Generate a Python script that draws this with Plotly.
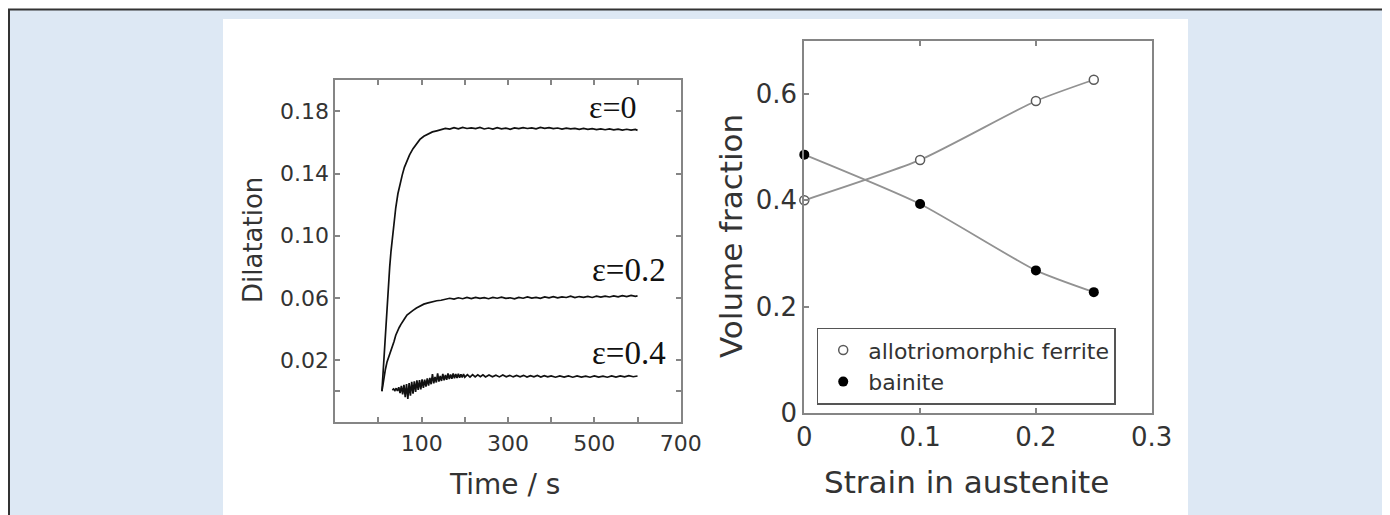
import plotly.graph_objects as go

# The page body adds an 8px offset, so the figure is 8px smaller than the window
OFF = 8
W, H = 1390 - OFF, 515 - OFF

# ---------------- data: left panel (dilatation vs time) ----------------
t_e0 = [8, 11, 14, 17, 20, 23, 26, 29, 32, 36, 40, 45, 50, 55, 60, 66, 72, 80, 88, 96,
        105, 115, 125, 135, 145, 155, 165, 175, 185, 195, 205, 215, 225, 235, 245, 255,
        265, 275, 285, 295, 305, 315, 325, 335, 345, 355, 365, 375, 385, 395, 405, 415,
        425, 435, 445, 455, 465, 475, 485, 495, 505, 515, 525, 535, 545, 555, 565, 575,
        585, 595, 600]
d_e0 = [0.000, 0.014, 0.028, 0.042, 0.055, 0.068, 0.080, 0.090, 0.099, 0.109, 0.118, 0.127,
        0.134, 0.139, 0.144, 0.148, 0.152, 0.156, 0.159, 0.162, 0.164, 0.1655, 0.1668,
        0.1675, 0.1682, 0.1690, 0.1686, 0.1695, 0.1688, 0.1697, 0.1690, 0.1694, 0.1689,
        0.1697, 0.1687, 0.1693, 0.1686, 0.1695, 0.1688, 0.1692, 0.1685, 0.1694, 0.1689,
        0.1696, 0.1690, 0.1694, 0.1688, 0.1697, 0.1691, 0.1695, 0.1689, 0.1693, 0.1686,
        0.1692, 0.1687, 0.1691, 0.1684, 0.1690, 0.1685, 0.1689, 0.1683, 0.1688, 0.1682,
        0.1687, 0.1681, 0.1686, 0.1680, 0.1685, 0.1679, 0.1684, 0.1678]

t_e2 = [8, 12, 16, 20, 24, 28, 32, 36, 40, 44, 48, 52, 56, 60, 66, 72, 80, 88, 96, 105,
        115, 125, 135, 145, 155, 165, 175, 185, 195, 205, 215, 225, 235, 245, 255, 265,
        275, 285, 295, 305, 315, 325, 335, 345, 355, 365, 375, 385, 395, 405, 415, 425,
        435, 445, 455, 465, 475, 485, 495, 505, 515, 525, 535, 545, 555, 565, 575, 585,
        595, 600]
d_e2 = [0.000, 0.008, 0.014, 0.019, 0.022, 0.025, 0.029, 0.032, 0.036, 0.039, 0.041, 0.043,
        0.045, 0.0465, 0.049, 0.0505, 0.052, 0.0535, 0.0548, 0.056, 0.0568, 0.0576, 0.0582,
        0.0585, 0.0592, 0.0598, 0.0592, 0.0601, 0.0595, 0.0603, 0.0596, 0.0604, 0.0597,
        0.0602, 0.0595, 0.0603, 0.0598, 0.0605, 0.0597, 0.0601, 0.0594, 0.0603, 0.0598,
        0.0606, 0.0599, 0.0604, 0.0598, 0.0606, 0.0600, 0.0608, 0.0601, 0.0607, 0.0603,
        0.0611, 0.0602, 0.0609, 0.0604, 0.0610, 0.0603, 0.0611, 0.0605, 0.0612, 0.0606,
        0.0613, 0.0607, 0.0615, 0.0609, 0.0616, 0.0610, 0.0613]

t_e4 = [32, 35, 38, 41, 44, 47, 50, 53, 56, 59, 62, 65, 68, 71, 74, 77, 80, 83, 86, 89,
        92, 95, 98, 101, 104, 107, 110, 113, 116, 119, 122, 125, 128, 131, 134, 137, 140,
        143, 146, 149, 152, 155, 158, 161, 164, 167, 170, 173, 176, 179, 182, 185, 188,
        191, 194, 197, 200, 206, 212, 218, 224, 230, 236, 242, 248, 256, 264, 272, 280,
        288, 296, 304, 312, 320, 328, 336, 344, 352, 360, 368, 376, 384, 392, 400, 410,
        420, 430, 440, 450, 460, 470, 480, 490, 500, 510, 520, 530, 540, 550, 560, 570,
        580, 590, 600]
d_e4 = [0.0008, 0.0014, 0.0004, 0.0019, 0.0002, 0.0026, -0.0012, 0.0034, -0.0020, 0.0041,
        -0.0038, 0.0046, -0.0050, 0.0052, -0.0028, 0.0060, -0.0015, 0.0064, -0.0004, 0.0070,
        0.0008, 0.0072, 0.0012, 0.0076, 0.0021, 0.0074, 0.0030, 0.0083, 0.0036, 0.0086,
        0.0045, 0.0110, 0.0050, 0.0092, 0.0056, 0.0114, 0.0062, 0.0098, 0.0066, 0.0112,
        0.0070, 0.0104, 0.0074, 0.0115, 0.0078, 0.0108, 0.0080, 0.0114, 0.0083, 0.0110,
        0.0085, 0.0112, 0.0087, 0.0109, 0.0088, 0.0111, 0.0090, 0.0106, 0.0091, 0.0107,
        0.0092, 0.0105, 0.0093, 0.0106, 0.0092, 0.0104, 0.0093, 0.0103, 0.0092, 0.0104,
        0.0093, 0.0102, 0.0092, 0.0101, 0.0093, 0.0102, 0.0091, 0.0100, 0.0092, 0.0101,
        0.0091, 0.0100, 0.0092, 0.0099, 0.0090, 0.0099, 0.0091, 0.0098, 0.0090, 0.0098,
        0.0091, 0.0097, 0.0090, 0.0098, 0.0091, 0.0097, 0.0090, 0.0098, 0.0091, 0.0099,
        0.0092, 0.0100, 0.0093, 0.0098]

curve_labels = ["ε=0", "ε=0.2", "ε=0.4"]
curve_label_pos = [(542, 0.183), (580, 0.078), (580, 0.0248)]

time_tick_vals = [0, 100, 200, 300, 400, 500, 600, 700]
time_tick_text = ["", "100", "", "300", "", "500", "", "700"]
dil_tick_vals = [0.00, 0.02, 0.06, 0.10, 0.14, 0.18]
dil_tick_text = ["", "0.02", "0.06", "0.10", "0.14", "0.18"]

# ---------------- data: right panel (volume fraction vs strain) ----------------
strain = [0.0, 0.1, 0.2, 0.25]
ferrite = [0.40, 0.476, 0.587, 0.627]
bainite = [0.486, 0.393, 0.268, 0.227]
strain_tick_vals = [0, 0.1, 0.2, 0.3]
strain_tick_text = ["0", "0.1", "0.2", "0.3"]
vf_tick_vals = [0, 0.2, 0.4, 0.6]
vf_tick_text = ["0", "0.2", "0.4", "0.6"]

# ---------------- styling ----------------
SANS = "DejaVu Sans, Verdana, sans-serif"
SERIF = "Liberation Serif, Times New Roman, serif"
TXT = "#333333"
SPINE = "#858585"
BG_BLUE = "#dde8f4"


def px_x(x):
    """reference-window pixel x -> paper fraction"""
    return (x - OFF) / W


def px_y(y):
    """reference-window pixel y -> paper fraction"""
    return 1 - (y - OFF) / H


fig = go.Figure()

for t, d in [(t_e0, d_e0), (t_e2, d_e2), (t_e4, d_e4)]:
    fig.add_trace(go.Scatter(x=t, y=d, mode="lines", line=dict(color="#111111", width=1.7),
                             showlegend=False, xaxis="x", yaxis="y", hoverinfo="skip"))

for vals in (ferrite, bainite):
    fig.add_trace(go.Scatter(x=strain, y=vals, mode="lines",
                             line=dict(color="#929292", width=1.8, shape="spline", smoothing=0.6),
                             showlegend=False, xaxis="x2", yaxis="y2"))
fig.add_trace(go.Scatter(x=strain, y=ferrite, mode="markers", name="allotriomorphic ferrite",
                         marker=dict(symbol="circle", size=9, color="white",
                                     line=dict(color="#5a5a5a", width=1.5)),
                         xaxis="x2", yaxis="y2", cliponaxis=False))
fig.add_trace(go.Scatter(x=strain, y=bainite, mode="markers", name="bainite",
                         marker=dict(symbol="circle", size=10, color="#000000",
                                     line=dict(color="#000000", width=0)),
                         xaxis="x2", yaxis="y2", cliponaxis=False))

annotations = []
for lab, (lx, ly), fs in zip(curve_labels, curve_label_pos, [32, 33, 33]):
    annotations.append(dict(x=lx, y=ly, xref="x", yref="y", text=lab, showarrow=False,
                            xanchor="center", yanchor="middle",
                            font=dict(family=SERIF, size=fs, color="#111111")))

title_specs = [
    ("Dilatation", 253, 240, -90, 26),
    ("Time / s", 505, 484, 0, 28),
    ("Volume fraction", 731, 236, -90, 31),
    ("Strain in austenite", 967, 482, 0, 31),
]
for txt, x, y, ang, fs in title_specs:
    annotations.append(dict(x=px_x(x), y=px_y(y), xref="paper", yref="paper", text=txt,
                            textangle=ang, showarrow=False, xanchor="center", yanchor="middle",
                            font=dict(family=SANS, size=fs, color=TXT)))

shapes = [
    dict(type="rect", xref="paper", yref="paper", x0=px_x(9), x1=px_x(1430), y0=px_y(9.5),
         y1=px_y(560), fillcolor=BG_BLUE, line=dict(color="#333333", width=2), layer="below"),
    dict(type="rect", xref="paper", yref="paper", x0=px_x(223), x1=px_x(1188), y0=px_y(19),
         y1=px_y(560), fillcolor="white", line=dict(width=0), layer="below"),
]

axis_common = dict(showline=True, linecolor=SPINE, linewidth=2, ticks="inside",
                   ticklen=5, tickwidth=1.5, tickcolor=SPINE, showgrid=False, zeroline=False,
                   automargin=False, tickmode="array")

fig.update_layout(
    width=W, height=H, margin=dict(l=0, r=0, t=0, b=0),
    paper_bgcolor="white", plot_bgcolor="rgba(0,0,0,0)", template="none",
    xaxis=dict(axis_common, mirror="ticks", domain=[px_x(335.3), px_x(680.7)], range=[-100, 700],
               tickvals=time_tick_vals, ticktext=time_tick_text,
               tickfont=dict(family=SANS, size=22, color=TXT), anchor="y"),
    yaxis=dict(axis_common, mirror="ticks", domain=[px_y(422.3), px_y(80.3)], range=[-0.02, 0.20],
               tickvals=dil_tick_vals, ticktext=dil_tick_text,
               tickfont=dict(family=SANS, size=22, color=TXT), anchor="x"),
    xaxis2=dict(axis_common, mirror="ticks", domain=[px_x(804.3), px_x(1151.7)], range=[0, 0.3],
                tickvals=strain_tick_vals, ticktext=strain_tick_text,
                tickfont=dict(family=SANS, size=26, color=TXT), anchor="y2"),
    yaxis2=dict(axis_common, mirror=True, domain=[px_y(412.7), px_y(41)], range=[0, 0.7],
                tickvals=vf_tick_vals, ticktext=vf_tick_text,
                tickfont=dict(family=SANS, size=26, color=TXT), anchor="x2"),
    legend=dict(x=px_x(816.7), y=px_y(327.7), xanchor="left", yanchor="top",
                bgcolor="white", bordercolor="#555555", borderwidth=1.5, itemwidth=40,
                font=dict(family=SANS, size=22, color=TXT), tracegroupgap=0),
    showlegend=True,
    annotations=annotations,
    shapes=shapes,
)

fig.write_html("out.html")
